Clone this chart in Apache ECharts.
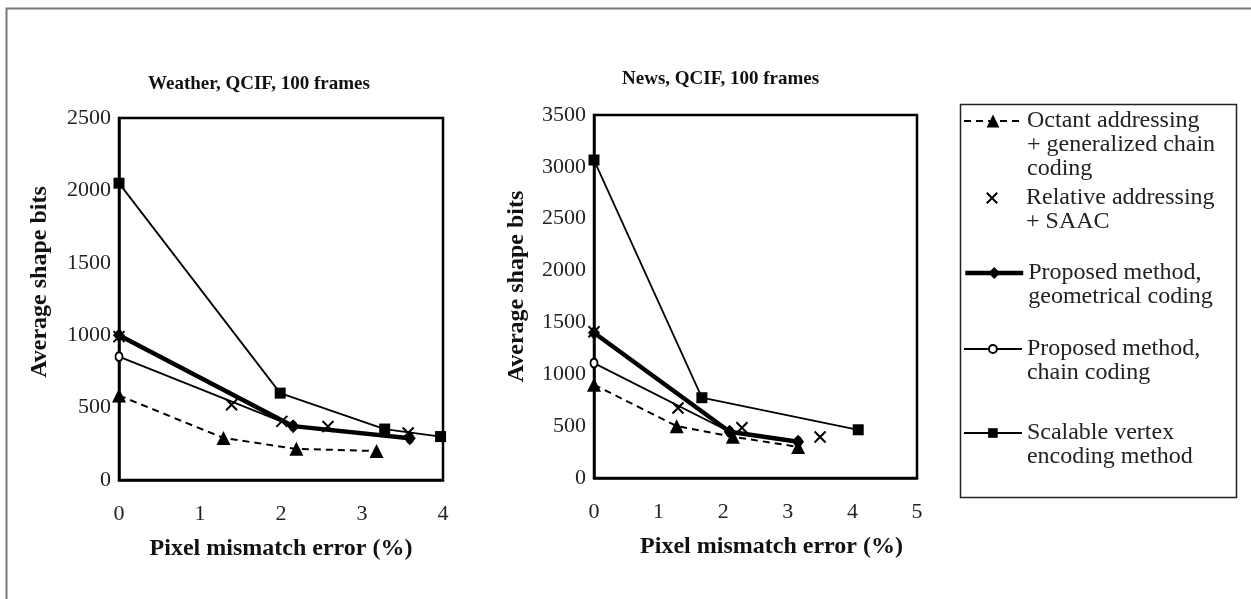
<!DOCTYPE html>
<html><head><meta charset="utf-8">
<script src="https://cdn.jsdelivr.net/npm/echarts@6/dist/echarts.min.js"></script>
<style>html,body{margin:0;padding:0;background:#fff}#c{width:1251px;height:599px}</style>
</head><body><div id="c"></div>
<script>
// ---------- data ----------
const methodNames = [
  'Octant addressing + generalized chain coding',
  'Relative addressing + SAAC',
  'Proposed method, geometrical coding',
  'Proposed method, chain coding',
  'Scalable vertex encoding method'
];
const legendLabels = [
  ['Octant addressing', '+ generalized chain', 'coding'],
  ['Relative addressing', '+ SAAC'],
  ['Proposed method,', 'geometrical coding'],
  ['Proposed method,', 'chain coding'],
  ['Scalable vertex', 'encoding method']
];
const chartTitles = ['Weather, QCIF, 100 frames', 'News, QCIF, 100 frames'];
const xAxisName = 'Pixel mismatch error (%)';
const yAxisName = 'Average shape bits';

// Weather, QCIF, 100 frames  [pixel mismatch error %, average shape bits]
const weatherOctant      = [[0, 584], [1.29, 290], [2.19, 215], [3.18, 200]];
const weatherRelative    = [[0, 990], [1.39, 520], [2.01, 405], [2.58, 370], [3.57, 325]];
const weatherGeometrical = [[0, 1000], [2.15, 372], [3.59, 288]];
const weatherChain       = [[0, 852], [2.15, 372], [3.59, 288]];
const weatherScalable    = [[0, 2050], [1.99, 600], [3.28, 352], [3.97, 300]];

// News, QCIF, 100 frames
const newsOctant      = [[0, 900], [1.28, 500], [2.15, 398], [3.16, 300]];
const newsRelative    = [[0, 1410], [1.30, 675], [2.29, 485], [3.50, 395]];
const newsGeometrical = [[0, 1400], [2.10, 446], [3.16, 350]];
const newsChain       = [[0, 1108], [2.10, 446], [3.16, 350]];
const newsScalable    = [[0, 3066], [1.67, 774], [4.09, 465]];

// axis ranges / ticks
const weatherXMax = 4, weatherYMax = 2500;
const newsXMax = 5,    newsYMax = 3500;
const xTickStep = 1, yTickStep = 500;

// ---------- styles ----------
const FONT = "'Liberation Serif','Times New Roman',serif";
const BLACK = '#000';
const styles = [
  { z: 3, symbol: 'triangle', symbolSize: 14, lineStyle: { color: BLACK, width: 2, type: [7, 5] }, itemStyle: { color: BLACK } },
  { z: 6, symbol: 'path://M0,0L10,10M10,0L0,10', symbolSize: 11, lineStyle: { width: 0, opacity: 0 }, itemStyle: { color: 'rgba(0,0,0,0)', borderColor: BLACK, borderWidth: 2, opacity: 1 } },
  { z: 5, symbol: 'diamond', symbolSize: [12, 14], lineStyle: { color: BLACK, width: 4.5 }, itemStyle: { color: BLACK } },
  { z: 4, symbol: 'emptyCircle', symbolSize: [7, 9], lineStyle: { color: BLACK, width: 1.8 }, itemStyle: { color: BLACK, borderColor: BLACK, borderWidth: 1.6 } },
  { z: 3, symbol: 'rect', symbolSize: 11, lineStyle: { color: BLACK, width: 1.8 }, itemStyle: { color: BLACK } }
];
const weatherData = [weatherOctant, weatherRelative, weatherGeometrical, weatherChain, weatherScalable];
const newsData = [newsOctant, newsRelative, newsGeometrical, newsChain, newsScalable];

const series = [];
[weatherData, newsData].forEach((set, g) => {
  set.forEach((d, i) => {
    series.push(Object.assign({
      type: 'line', name: methodNames[i], xAxisIndex: g, yAxisIndex: g, data: d,
      showSymbol: true, animation: false, silent: true
    }, JSON.parse(JSON.stringify(styles[i]))));
  });
});

// ---------- layout ----------
const grids = [
  { left: 119, top: 118, width: 324, height: 362 },
  { left: 594, top: 115, width: 323, height: 363 }
];
function xAxisOf(g, max, namePad) {
  return {
    type: 'value', gridIndex: g, min: 0, max: max, interval: xTickStep,
    name: xAxisName, nameLocation: 'middle', nameGap: 57,
    nameTextStyle: { fontFamily: FONT, fontSize: 24, fontWeight: 'bold', color: '#111', padding: namePad },
    axisLine: { show: true, lineStyle: { color: BLACK, width: 2.5 } },
    axisTick: { show: false }, splitLine: { show: false },
    axisLabel: { fontFamily: FONT, fontSize: 22, color: '#222', margin: 23 }
  };
}
function yAxisOf(g, max, gap, namePad) {
  return {
    type: 'value', gridIndex: g, min: 0, max: max, interval: yTickStep,
    name: yAxisName, nameLocation: 'middle', nameGap: gap,
    nameTextStyle: { fontFamily: FONT, fontSize: 24, fontWeight: 'bold', color: '#111', padding: namePad },
    axisLine: { show: true, lineStyle: { color: BLACK, width: 2.5 } },
    axisTick: { show: false }, splitLine: { show: false },
    axisLabel: { fontFamily: FONT, fontSize: 22, color: '#222', margin: 8, formatter: v => String(v) }
  };
}

const legendIconCenters = [121, 198, 273, 349, 433];
const legendItemHeights = [16, 13, 15, 10, 12];
const legendLineWidths = [2, 0, 4.5, 1.8, 1.8];
const LINE_H = 24;
const legends = methodNames.map((nm, i) => {
  const lines = legendLabels[i];
  const pad = lines.length - 1;
  const textLines = Array(pad).fill('').concat(lines);
  const H = textLines.length * LINE_H;
  return {
    data: [nm], left: 963, top: legendIconCenters[i] - H / 2, padding: 0,
    orient: 'vertical', itemWidth: 58, itemHeight: legendItemHeights[i], selectedMode: false,
    lineStyle: { width: legendLineWidths[i] },
    formatter: () => textLines.join('\n'),
    textStyle: { fontFamily: FONT, fontSize: 24, lineHeight: LINE_H, color: '#222' }
  };
});

const option = {
  backgroundColor: '#fff',
  animation: false,
  title: [
    { text: chartTitles[0], left: 148, top: 75, padding: 0, textStyle: { fontFamily: FONT, fontSize: 19, fontWeight: 'bold', color: '#111' } },
    { text: chartTitles[1], left: 622, top: 70, padding: 0, textStyle: { fontFamily: FONT, fontSize: 19, fontWeight: 'bold', color: '#111' } }
  ],
  grid: grids.map(g => Object.assign({ show: true, borderColor: BLACK, borderWidth: 2.5, backgroundColor: 'transparent', containLabel: false, outerBoundsMode: 'none' }, g)),
  xAxis: [xAxisOf(0, weatherXMax, [0, 0, 0, 0]), xAxisOf(1, newsXMax, [0, 0, 0, 32])],
  yAxis: [yAxisOf(0, weatherYMax, 67, [0, 0, 0, 34]), yAxisOf(1, newsYMax, 65, [0, 0, 0, 20])],
  legend: legends,
  series: series,
  graphic: [
    { type: 'rect', silent: true, z: -1, shape: { x: 6.5, y: 8.5, width: 1300, height: 700 }, style: { fill: 'none', stroke: '#777', lineWidth: 2 } },
    { type: 'rect', silent: true, z: -1, shape: { x: 960.5, y: 104.5, width: 276, height: 393 }, style: { fill: 'none', stroke: '#222', lineWidth: 1.5 } }
  ]
};
const chart = echarts.init(document.getElementById('c'), null, { renderer: 'canvas' });
chart.setOption(option);
</script></body></html>
